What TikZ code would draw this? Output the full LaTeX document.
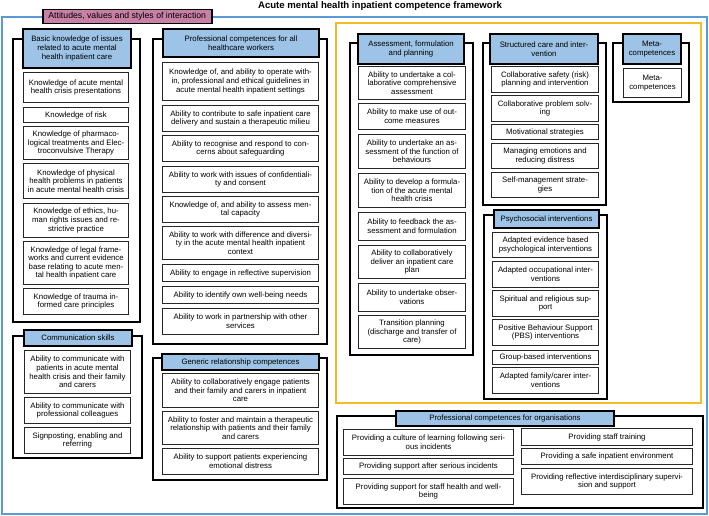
\documentclass[tikz,border=0pt]{standalone}
\usepackage{fontspec}
\setmainfont{Liberation Sans}
\usepackage{tikz}
\definecolor{frameblue}{RGB}{91,155,213}
\definecolor{frameyellow}{RGB}{244,188,36}
\definecolor{hdrblue}{RGB}{157,195,230}
\definecolor{mauve}{RGB}{200,128,165}

\begin{document}
\begin{tikzpicture}[
  x=1pt, y=-1pt,
  txt/.style={font=\fontsize{7.8}{8.6}\selectfont, align=center, inner sep=1pt},
  item/.style={txt, draw=black!85, line width=1pt, fill=white, anchor=north west},
  hdr/.style={txt, draw=black, line width=2pt, fill=hdrblue, anchor=north west},
  grp/.style={draw=black, line width=1.6pt, fill=white},
  colA/.style={item, minimum width=105pt},
  colB/.style={item, minimum width=156pt},
  colC/.style={item, minimum width=107pt},
  colD/.style={item, minimum width=106pt},
  colE/.style={item, minimum width=170pt}
]
\useasboundingbox (0,0) rectangle (709,516);

\node[font=\bfseries\fontsize{9.6}{11}\selectfont] (title) at (380,6) {Acute mental health inpatient competence framework};
\draw[frameblue, line width=1.5pt] (2,17) rectangle (707,514);
\node[txt, font=\fontsize{8.7}{10}\selectfont, draw=black, line width=1.5pt, fill=mauve,
  minimum width=169pt, minimum height=14pt, anchor=north west] (attitudes) at (42,9)
  {Attitudes, values and styles of interaction};
\draw[frameyellow, line width=1.8pt] (336,23) rectangle (701,403);

% basic knowledge
\draw[grp] (13,39) rectangle (140,322);
\node[hdr, minimum width=108pt, minimum height=39pt] (basic) at (22,28)
  {Basic knowledge of issues\\related to acute mental\\health inpatient care};
\node[colA, minimum height=30pt] (k1) at (23,72) {Knowledge of acute mental\\health crisis presentations};
\node[colA, minimum height=15pt] (k2) at (23,107) {Knowledge of risk};
\node[colA, minimum height=33pt] (k3) at (23,126) {Knowledge of pharmaco-\\logical treatments and Elec-\\troconvulsive Therapy};
\node[colA, minimum height=35pt] (k4) at (23,163) {Knowledge of physical\\health problems in patients\\in acute mental health crisis};
\node[colA, minimum height=34pt] (k5) at (23,203) {Knowledge of ethics, hu-\\man rights issues and re-\\strictive practice};
\node[colA, minimum height=43pt] (k6) at (23,241) {Knowledge of legal frame-\\works and current evidence\\base relating to acute men-\\tal health inpatient care};
\node[colA, minimum height=26pt] (k7) at (23,288) {Knowledge of trauma in-\\formed care principles};

% communication
\draw[grp] (13,336) rectangle (142,458);
\node[hdr, minimum width=108pt, minimum height=16pt] (comm) at (23,329) {Communication skills};
\node[colA, minimum width=106pt, minimum height=43pt] (c1) at (24,350) {Ability to communicate with\\patients in acute mental\\health crisis and their family\\and carers};
\node[colA, minimum width=106pt, minimum height=26pt] (c2) at (24,397) {Ability to communicate with\\professional colleagues};
\node[colA, minimum width=106pt, minimum height=26pt] (c3) at (24,427) {Signposting, enabling and\\referring};

% professional competences
\draw[grp] (153,39) rectangle (327,344);
\node[hdr, minimum width=156pt, minimum height=28pt] (prof) at (162,28) {Professional competences for all\\healthcare workers};
\node[colB, minimum height=38pt] (p1) at (162,62) {Knowledge of, and ability to operate with-\\in, professional and ethical guidelines in\\acute mental health inpatient settings};
\node[colB, minimum height=26pt] (p2) at (162,105) {Ability to contribute to safe inpatient care\\delivery and sustain a therapeutic milieu};
\node[colB, minimum height=26pt] (p3) at (162,135) {Ability to recognise and respond to con-\\cerns about safeguarding};
\node[colB, minimum height=26pt] (p4) at (162,166) {Ability to work with issues of confidentiali-\\ty and consent};
\node[colB, minimum height=26pt] (p5) at (162,196) {Knowledge of, and ability to assess men-\\tal capacity};
\node[colB, minimum height=33pt] (p6) at (162,226) {Ability to work with difference and diversi-\\ty in the acute mental health inpatient\\context};
\node[colB, minimum height=17pt] (p7) at (162,264) {Ability to engage in reflective supervision};
\node[colB, minimum height=17pt] (p8) at (162,286) {Ability to identify own well-being needs};
\node[colB, minimum height=26pt] (p9) at (162,308) {Ability to work in partnership with other\\services};

% generic relationship
\draw[grp] (153,358) rectangle (327,480);
\node[hdr, minimum width=157pt, minimum height=16pt] (generic) at (161,353) {Generic relationship competences};
\node[colB, minimum height=34pt] (g1) at (162,373) {Ability to collaboratively engage patients\\and their family and carers in inpatient\\care};
\node[colB, minimum height=33pt] (g2) at (162,411) {Ability to foster and maintain a therapeutic\\relationship with patients and their family\\and carers};
\node[colB, minimum height=26pt] (g3) at (162,448) {Ability to support patients experiencing\\emotional distress};

% assessment
\draw[grp] (350,43) rectangle (473,355);
\node[hdr, minimum width=106pt, minimum height=30pt] (assess) at (357,33) {Assessment, formulation\\and planning};
\node[colC, minimum height=33pt] (a1) at (358,66) {Ability to undertake a col-\\laborative comprehensive\\assessment};
\node[colC, minimum height=26pt] (a2) at (358,103) {Ability to make use of out-\\come measures};
\node[colC, minimum height=34pt] (a3) at (358,134) {Ability to undertake an as-\\sessment of the function of\\behaviours};
\node[colC, minimum height=34pt] (a4) at (358,173) {Ability to develop a formula-\\tion of the acute mental\\health crisis};
\node[colC, minimum height=28pt] (a5) at (358,212) {Ability to feedback the as-\\sessment and formulation};
\node[colC, minimum height=33pt] (a6) at (358,245) {Ability to collaboratively\\deliver an inpatient care\\plan};
\node[colC, minimum height=28pt] (a7) at (358,283) {Ability to undertake obser-\\vations};
\node[colC, minimum height=33pt] (a8) at (358,315) {Transition planning\\(discharge and transfer of\\care)};

% structured care
\draw[grp] (483,43) rectangle (606,205);
\node[hdr, minimum width=108pt, minimum height=30pt] (struct) at (489,33) {Structured care and inter-\\vention};
\node[colC, minimum height=26pt] (s1) at (491,66) {Collaborative safety (risk)\\planning and intervention};
\node[colC, minimum height=26pt] (s2) at (491,95) {Collaborative problem solv-\\ing};
\node[colC, minimum height=15pt] (s3) at (491,124) {Motivational strategies};
\node[colC, minimum height=25pt] (s4) at (491,143) {Managing emotions and\\reducing distress};
\node[colC, minimum height=25pt] (s5) at (491,172) {Self-management strate-\\gies};

% psychosocial
\draw[grp] (484,215) rectangle (607,399);
\node[hdr, minimum width=105pt, minimum height=18pt] (psycho) at (493,209) {Psychosocial interventions};
\node[colD, minimum height=25pt] (i1) at (492,232) {Adapted evidence based\\psychological interventions};
\node[colD, minimum height=26pt] (i2) at (492,261) {Adapted occupational inter-\\ventions};
\node[colD, minimum height=26pt] (i3) at (492,290) {Spiritual and religious sup-\\port};
\node[colD, minimum height=26pt] (i4) at (492,319) {Positive Behaviour Support\\(PBS) interventions};
\node[colD, minimum height=14pt] (i5) at (492,350) {Group-based interventions};
\node[colD, minimum height=26pt] (i6) at (492,367) {Adapted family/carer inter-\\ventions};

% meta
\draw[grp] (613,43) rectangle (689,102);
\node[hdr, minimum width=58pt, minimum height=30pt] (metahdr) at (622,33) {Meta-\\competences};
\node[item, minimum width=58pt, minimum height=29pt] (meta) at (623,68) {Meta-\\competences};

% organisations
\draw[grp] (337,416) rectangle (703,508);
\node[hdr, minimum width=218pt, minimum height=15pt] (orgs) at (395,410) {Professional competences for organisations};
\node[colE, minimum height=26pt] (o1) at (343,429) {Providing a culture of learning following seri-\\ous incidents};
\node[colE, minimum height=16pt] (o2) at (343,458) {Providing support after serious incidents};
\node[colE, minimum height=26pt] (o3) at (343,478) {Providing support for staff health and well-\\being};
\node[colE, minimum width=171pt, minimum height=17pt] (o4) at (521,428) {Providing staff training};
\node[colE, minimum width=171pt, minimum height=16pt] (o5) at (521,448) {Providing a safe inpatient environment};
\node[colE, minimum width=171pt, minimum height=26pt] (o6) at (521,468) {Providing reflective interdisciplinary supervi-\\sion and support};
\end{tikzpicture}
\end{document}
